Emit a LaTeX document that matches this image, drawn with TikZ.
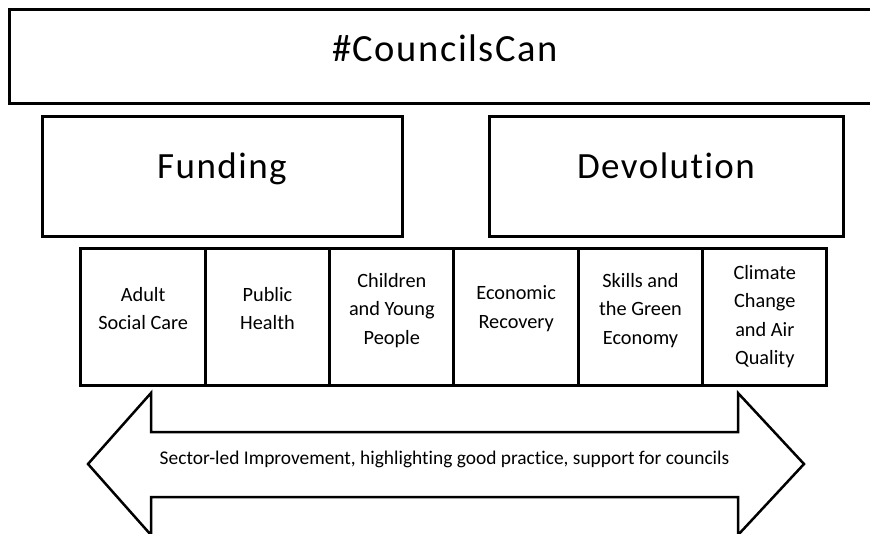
\documentclass[tikz,border=0pt]{standalone}
\usepackage{fontspec}
\setmainfont{Carlito}[Ligatures=NoCommon]
\newfontfamily\widefont{Carlito}[LetterSpace=4, Ligatures=NoCommon]
\usetikzlibrary{positioning}

\tikzset{
	panel/.style={draw, line width=3pt, outer sep=0pt, inner sep=0pt},
	bigtext/.style={inner sep=0pt, text height=24pt, text depth=0pt},
	topic/.style={panel, minimum width=124.33pt, minimum height=137pt},
	topictext/.style={align=center, font=\fontsize{20.3}{28.5}\selectfont}
}

\begin{document}
\begin{tikzpicture}[x=1pt, y=-1pt]
	\useasboundingbox (0,0) rectangle (870,533);
	\clip (0,0) rectangle (870,533);

	\node[panel, minimum width=872pt, minimum height=94pt] (title) at (445,56) {};
	\node[bigtext, font=\widefont\fontsize{38.5}{44}\selectfont, yshift=7pt] (titletext) at (title) {\#CouncilsCan};

	\node[panel, minimum width=360pt, minimum height=120pt] (funding) at (222,176) {};
	\node[bigtext, font=\widefont\fontsize{37}{42}\selectfont, yshift=9.5pt] (fundingtext) at (funding) {Funding};
	\node[panel, minimum width=354pt, minimum height=120pt] (devolution) at (666,176) {};
	\node[bigtext, font=\widefont\fontsize{37}{42}\selectfont, yshift=9.5pt] (devolutiontext) at (devolution) {Devolution};

	\foreach \n/\txt/\dy in {1/{Adult\\Social Care}/8, 2/{Public\\Health}/8,
		3/{Children\\and Young\\People}/6, 4/{Economic\\Recovery}/8,
		5/{Skills and\\the Green\\Economy}/6, 6/{Climate\\Change\\and Air\\Quality}/0}
	{
		\node[topic] (t\n) at (81+124.33*\n-62.17, 316.5) {};
		\node[topictext, yshift=\dy pt] (l\n) at (t\n) {\txt};
	}

	% double arrow underneath
	\coordinate (tipl) at (88,464); \coordinate (tipr) at (804,464);
	\draw[line width=2.5pt, line join=miter] (tipl) -- (151,393) -- (151,432) -- (738,432)
		-- (738,393) -- (tipr) -- (738,535) -- (738,497) -- (151,497) -- (151,535) -- cycle;
	\node[font=\fontsize{19.4}{22}\selectfont] (improve) at (444.5,459) {Sector-led Improvement, highlighting good practice, support for councils};
\end{tikzpicture}
\end{document}
